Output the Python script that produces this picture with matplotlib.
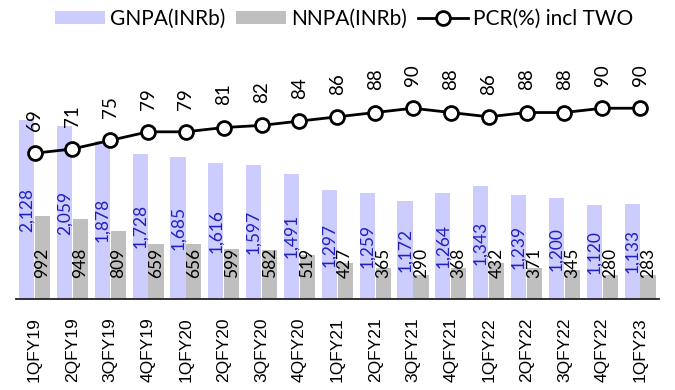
import numpy as np
import matplotlib
matplotlib.use('Agg')
import matplotlib.pyplot as plt

#Data
quarters = ['1QFY19', '2QFY19', '3QFY19', '4QFY19', '1QFY20', '2QFY20', '3QFY20', '4QFY20',
            '1QFY21', '2QFY21', '3QFY21', '4QFY21', '1QFY22', '2QFY22', '3QFY22', '4QFY22', '1QFY23']
gnpa = [2128, 2059, 1878, 1728, 1685, 1616, 1597, 1491, 1297, 1259, 1172, 1264, 1343, 1239, 1200, 1120, 1133]
nnpa = [992, 948, 809, 659, 656, 599, 582, 519, 427, 365, 290, 368, 432, 371, 345, 280, 283]
pcr = [69, 71, 75, 79, 79, 81, 82, 84, 86, 88, 90, 88, 86, 88, 88, 90, 90]

gnpa_col = '#CCCCFF'
nnpa_col = '#BFBFBF'
lbl_font = 'Lato'

fig = plt.figure(figsize=(6.75, 3.9), dpi=100)
ax = fig.add_axes([15.6/675, 91/390, 643.4/675, 269/390])
x = np.arange(len(quarters))
w = 0.4

ax.bar(x - 0.21, gnpa, w, color=gnpa_col, label='GNPA(INRb)', zorder=1)
ax.bar(x + 0.21, nnpa, w, color=nnpa_col, label='NNPA(INRb)', zorder=1)
ax.set_xlim(-0.5, len(quarters) - 0.5)
ax.set_ylim(0, 3202)

#Bar labels: GNPA centred in the bar, NNPA at the inside base
for i in range(len(quarters)):
	ax.text(x[i] - 0.21, gnpa[i] / 2, format(gnpa[i], ','), rotation=90, ha='center', va='center',
	        fontsize=12.5, color='#2020C0', family=lbl_font, zorder=3)
	ax.annotate(format(nnpa[i], ','), (x[i] + 0.21, 0), xytext=(0, 15), textcoords='offset points',
	            rotation=90, ha='center', va='bottom', fontsize=12.5, color='black', family=lbl_font, zorder=3)

ax.set_xticks(x)
ax.set_xticklabels(quarters, rotation=90, fontsize=12.5, family='Liberation Sans')
ax.tick_params(axis='x', length=0, pad=13)
ax.set_yticks([])
for s in ['top', 'left', 'right']:
	ax.spines[s].set_visible(False)
ax.spines['bottom'].set_linewidth(1.3)
ax.spines['bottom'].set_color('#222222')

#PCR line on a hidden secondary axis
ax2 = ax.twinx()
ax2.plot(x, pcr, color='black', lw=2, marker='o', markersize=10, markerfacecolor='white',
         markeredgecolor='black', markeredgewidth=2, label='PCR(%) incl TWO', zorder=4)
ax2.set_ylim(1, 126.5)
ax2.set_yticks([])
for s in ['top', 'left', 'right', 'bottom']:
	ax2.spines[s].set_visible(False)
for i in range(len(quarters)):
	ax2.annotate(str(pcr[i]), (x[i], pcr[i]), xytext=(0, 16), textcoords='offset points',
	             rotation=90, ha='center', va='bottom', fontsize=13.5, color='black', family=lbl_font)

h1, l1 = ax.get_legend_handles_labels()
h2, l2 = ax2.get_legend_handles_labels()
fig.legend(h1 + h2, l1 + l2, loc='upper center', bbox_to_anchor=(0.51, 1.025), ncol=3, frameon=False,
           prop={'family': 'Lato', 'size': 15}, handlelength=2.4, handleheight=0.6,
           handletextpad=0.25, columnspacing=0.5)

fig.savefig('out.png', dpi=100)
